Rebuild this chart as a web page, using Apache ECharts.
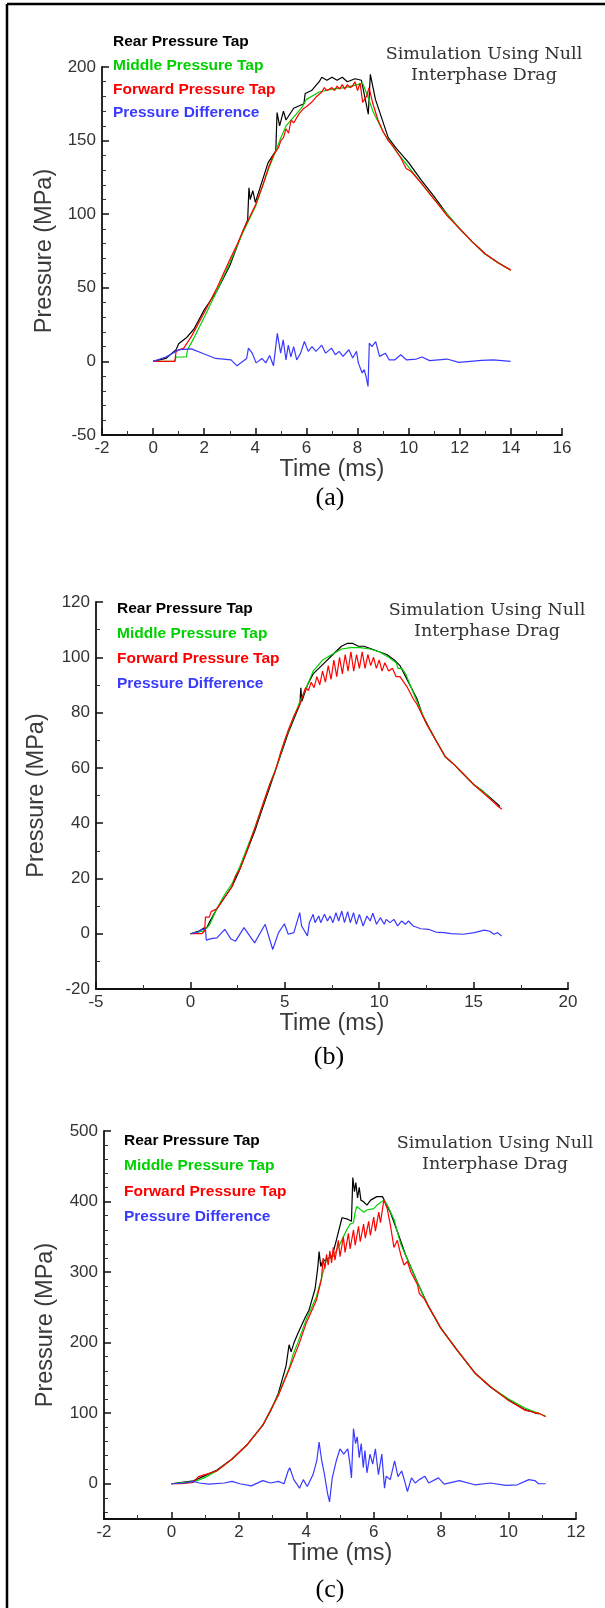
<!DOCTYPE html>
<html lang="en">
<head>
<meta charset="UTF-8">
<title>pressure taps</title>
<style>
  html, body { margin: 0; padding: 0; background: #fff; }
  #main { width: 605px; height: 1608px; }
</style>
</head>
<body>
<div id="main"></div>
<script src="https://cdn.jsdelivr.net/npm/echarts@6/dist/echarts.min.js"></script>
<script>
var seriesNames = ['Rear Pressure Tap', 'Middle Pressure Tap', 'Forward Pressure Tap', 'Pressure Difference'];
var seriesColors = ['#000000', '#00d000', '#ff0000', '#3a3aff'];
var captions = ['(a)', '(b)', '(c)'];
var note = 'Simulation Using Null\nInterphase Drag';

// panel (a)  [time ms, pressure MPa]
var rearA = [[0,0],[0.5,2],[0.9,8],[1.0,12],[1.3,16],[1.6,22],[2.0,35],[2.5,48],[3.0,65],[3.5,88],[3.7,96],[3.75,118],[3.8,110],[3.9,116],[4.0,108],[4.5,135],[4.8,143],[4.85,169],[4.95,160],[5.1,170],[5.2,164],[5.5,172],[5.9,175],[5.95,182],[6.2,184],[6.5,190],[6.6,193],[6.8,191],[7.0,193],[7.2,191],[7.4,193],[7.6,190],[7.9,192],[8.15,191],[8.42,168],[8.5,195],[8.7,178],[9.2,152],[9.5,145],[10,135],[10.5,123],[11,112],[11.5,100],[12,90],[12.5,81],[13,73],[13.5,67],[13.9,63]];
var middleA = [[0,0],[0.85,0],[0.9,3],[1.3,3],[1.35,8],[1.6,16],[2.0,30],[2.5,48],[3.0,67],[3.5,87],[4.0,105],[4.5,130],[4.8,143],[5.0,152],[5.2,160],[5.5,166],[5.8,172],[6.0,178],[6.5,183],[7.0,185],[7.5,186],[8.0,188],[8.2,189],[8.4,180],[8.6,170],[9.0,156],[9.5,143],[10.0,132],[10.5,121],[11.0,110],[11.5,100],[12.0,90],[12.5,81],[13.0,73],[13.5,67],[14.0,62]];
var forwardA = [[0,0],[0.85,0],[0.9,7],[1.2,9],[1.5,17],[2.0,33],[2.5,50],[3.0,69],[3.3,80],[3.5,88],[3.8,99],[4.0,106],[4.3,120],[4.5,131],[4.7,140],[4.9,145],[5.0,150],[5.1,152],[5.2,158],[5.3,155],[5.4,164],[5.5,162],[5.7,168],[5.9,172],[6.0,173],[6.2,176],[6.4,180],[6.6,183],[6.7,186],[6.8,184],[7.0,186],[7.1,184],[7.2,187],[7.3,185],[7.4,188],[7.5,185],[7.6,188],[7.7,186],[7.8,187],[7.9,190],[8.0,184],[8.1,189],[8.2,176],[8.35,180],[8.45,186],[8.6,175],[8.8,164],[9.0,156],[9.2,150],[9.4,146],[9.7,138],[9.9,131],[10.1,129],[10.5,121],[11.0,110],[11.5,99],[12.0,90],[12.5,81],[13.0,73],[13.5,67],[14.0,62]];
var diffA = [[0,0],[0.04,0],[0.5,3],[1.02,8],[1.5,8.5],[2.0,5],[2.45,2],[3.05,1],[3.28,-3],[3.66,2],[3.73,9],[3.88,5.6],[4.03,-1],[4.26,2],[4.41,-1],[4.56,4],[4.71,-3],[4.86,19],[4.99,5.6],[5.09,14.6],[5.2,1],[5.29,11],[5.39,3],[5.5,10],[5.62,1],[5.77,5.6],[5.92,13.5],[6.07,6.8],[6.22,10],[6.37,6.8],[6.6,11],[6.75,5.6],[6.98,9],[7.13,4.5],[7.28,6.8],[7.43,3.4],[7.66,7.9],[7.81,2.3],[7.96,6.8],[8.03,-1],[8.18,-7.9],[8.26,-5.6],[8.33,-10],[8.41,-17],[8.46,12.4],[8.56,10],[8.71,13.5],[8.86,3.4],[9.09,5.6],[9.24,1],[9.45,1],[9.69,4.5],[9.92,1],[10.3,1.6],[10.52,3],[10.82,0.5],[11.5,1.6],[11.96,-0.7],[12.86,0.7],[13.31,1.1],[13.99,0]];

// panel (b)
var rearB = [[0,0],[0.5,1],[0.7,2],[0.85,2],[1.0,4],[1.4,9],[1.8,13],[2.2,17],[2.6,23],[3.0,30],[3.4,37],[3.8,45],[4.2,53],[4.5,59],[4.8,65],[5.2,73],[5.5,78],[5.8,83],[5.85,89],[5.9,84],[6.2,90],[6.5,94],[6.8,96],[7.1,98],[7.4,100],[7.7,102],[8.0,104],[8.3,105],[8.6,105],[8.9,104],[9.2,104],[9.6,103],[10.0,102],[10.4,101],[10.8,99],[11.1,97],[11.4,93],[11.7,89],[12.0,85],[12.3,79],[12.6,75],[13.0,70],[13.5,64],[14.0,61],[14.5,57.5],[15.0,54],[15.5,51.5],[16.0,48.5],[16.4,46]];
var middleB = [[0,0],[0.7,1],[0.85,2],[1.0,3],[1.4,9],[1.8,14],[2.2,18],[2.6,24],[3.0,31],[3.4,38],[3.8,46],[4.2,54],[4.6,61],[5.0,70],[5.4,77],[5.8,84],[6.2,90],[6.5,95],[7.0,99],[7.5,101],[8.0,103],[8.5,103.5],[9.0,103.5],[9.5,103],[10.0,102],[10.5,100],[10.9,98],[11.0,96],[11.2,96],[11.4,94],[11.7,89],[12.0,84],[12.5,76],[13.0,70],[13.5,64],[14.0,61],[14.5,57.5],[15.0,54],[15.5,51.5],[16.0,48]];
var forwardB = [[0,0],[0.6,0],[0.75,1],[0.8,6],[1.0,6],[1.1,8],[1.4,9],[1.8,13],[2.2,17],[2.4,21],[2.6,23],[3.0,30],[3.4,38],[3.5,40],[3.8,46],[4.2,54],[4.5,59],[4.8,66],[5.2,74],[5.5,79],[5.8,83],[6.0,87],[6.1,89],[6.25,88],[6.4,91],[6.55,89],[6.7,93],[6.85,90],[7.0,95],[7.15,91],[7.3,97],[7.45,92],[7.6,99],[7.75,93],[7.9,100],[8.05,94],[8.2,101],[8.35,95],[8.5,102],[8.65,95],[8.8,101],[8.95,96],[9.1,102],[9.25,96],[9.4,101],[9.55,97],[9.7,100],[9.85,96],[10.0,99],[10.15,95],[10.3,98],[10.5,95],[10.7,96],[10.9,93],[11.1,93],[11.3,91],[11.5,89],[11.8,85],[12.0,83],[12.5,76],[13.0,70],[13.5,64],[14.0,61],[14.5,57.5],[15.0,54],[15.5,51],[16.0,48],[16.3,46],[16.5,45]];
var diffB = [[0,0],[0.4,0.6],[0.6,1.6],[0.8,1.6],[0.84,-2.3],[1.1,-1.8],[1.41,-1.5],[1.82,1.6],[2.13,-1.8],[2.39,-2.7],[2.84,2.2],[3.4,-3.3],[3.96,3.4],[4.36,-5.7],[4.67,0.4],[4.98,3.6],[5.18,-0.2],[5.48,0.4],[5.79,7.6],[5.89,2.8],[6.2,-0.8],[6.3,4],[6.5,7],[6.6,4],[6.8,6.4],[6.9,4],[7.1,7],[7.26,4.6],[7.4,6.4],[7.55,4],[7.71,7.6],[7.85,4.6],[8.02,8.2],[8.16,4],[8.33,8],[8.47,4],[8.64,7.6],[8.79,3.4],[8.95,7],[9.15,2.8],[9.35,6.4],[9.52,4.6],[9.66,7.4],[9.86,3.4],[10.06,5.8],[10.27,3.4],[10.37,5.2],[10.57,4],[10.78,5.2],[10.98,2.8],[11.19,4.6],[11.39,3.4],[11.55,4.6],[11.8,2.8],[12.2,1.8],[12.61,1.6],[13.0,0.6],[13.43,0.4],[13.8,0],[14.44,-0.2],[15.05,0.4],[15.56,1.3],[15.87,0.9],[16.07,-0.2],[16.27,0.4],[16.48,-0.8]];

// panel (c)
var rearC = [[0,0],[0.65,4],[0.88,9],[1.34,19],[1.8,35],[2.26,56],[2.71,83],[2.94,103],[3.17,128],[3.4,167],[3.49,197],[3.55,187],[3.63,199],[3.74,212],[3.97,236],[4.08,246],[4.26,276],[4.34,306],[4.38,329],[4.43,308],[4.48,315],[4.6,318],[4.77,323],[4.89,345],[5.06,377],[5.23,375],[5.34,372],[5.38,434],[5.43,414],[5.47,427],[5.52,405],[5.57,420],[5.62,402],[5.69,400],[5.8,395],[5.91,402],[6.09,407],[6.26,407],[6.49,385],[6.72,355],[6.94,325],[7.29,286],[7.63,251],[7.97,222],[8.43,192],[9.0,157],[9.46,137],[10.03,118],[10.49,105],[10.9,99]];
var middleC = [[0,0],[0.65,3],[0.8,5],[1.0,9],[1.34,18],[1.8,35],[2.26,56],[2.71,83],[3.17,126],[3.5,165],[3.6,182],[3.75,200],[4.0,233],[4.3,265],[4.5,300],[4.6,318],[4.8,322],[5.0,340],[5.2,360],[5.3,368],[5.4,370],[5.45,385],[5.5,393],[5.7,385],[5.8,388],[6.0,390],[6.1,395],[6.3,402],[6.4,395],[6.6,375],[6.8,340],[7.0,318],[7.3,285],[7.6,253],[8.0,220],[8.5,188],[9.0,157],[9.5,136],[10.0,120],[10.5,107],[11.1,96]];
var forwardC = [[0,0],[0.3,0],[0.65,2],[0.8,10],[1.0,13],[1.34,18],[1.8,35],[2.26,56],[2.71,83],[3.17,125],[3.5,163],[3.8,200],[4.0,228],[4.3,260],[4.45,290],[4.5,320],[4.55,305],[4.6,325],[4.65,310],[4.7,330],[4.75,313],[4.8,335],[4.85,317],[4.95,345],[5.0,322],[5.1,350],[5.15,328],[5.25,355],[5.3,333],[5.4,360],[5.45,338],[5.55,365],[5.6,343],[5.7,368],[5.75,348],[5.85,372],[5.9,352],[6.0,378],[6.05,358],[6.15,385],[6.2,370],[6.3,402],[6.4,390],[6.5,365],[6.6,335],[6.7,345],[6.8,325],[6.9,310],[7.0,315],[7.1,300],[7.3,282],[7.35,270],[7.5,262],[7.7,245],[8.0,220],[8.5,188],[9.0,157],[9.5,136],[10.0,118],[10.5,104],[10.7,102],[10.8,100],[10.9,100],[11.1,95]];
var diffC = [[0,0],[0.42,1],[0.65,3.4],[0.83,1],[1.11,-0.5],[1.57,1],[1.8,3.4],[2.03,0],[2.37,-3],[2.71,4.4],[2.94,1],[3.17,3.4],[3.34,0],[3.46,18],[3.51,22.8],[3.63,5.8],[3.8,-6.3],[3.91,5.8],[4.03,-3.9],[4.2,13],[4.31,32.5],[4.38,59],[4.45,35],[4.54,13],[4.63,-13.6],[4.69,-25.7],[4.77,8.3],[4.89,32.5],[5.0,49.5],[5.11,42],[5.23,49.5],[5.29,30],[5.34,8.3],[5.4,78],[5.46,57],[5.51,66.5],[5.57,37],[5.63,57],[5.69,23],[5.74,47],[5.8,15.5],[5.89,42],[5.97,27.7],[6.05,49.5],[6.14,13],[6.24,42],[6.32,-6.3],[6.37,10.7],[6.49,5.8],[6.62,32.5],[6.72,10],[6.83,18],[6.92,3.4],[7.0,-11],[7.12,8.3],[7.23,1],[7.35,5.8],[7.52,10.7],[7.63,1],[7.92,8.3],[8.09,-0.5],[8.54,4.4],[9.0,-1.5],[9.46,1],[9.92,-2.4],[10.26,-1.5],[10.6,5.8],[10.78,4.5],[10.89,0],[11.1,0]];

var panelData = [
  [rearA, middleA, forwardA, diffA],
  [rearB, middleB, forwardB, diffB],
  [rearC, middleC, forwardC, diffC]
];

// layout of the three plots (px)
var panels = [
  { grid: {left: 102, top: 67, width: 460, height: 368},
    x: {min: -2, max: 16, interval: 2}, y: {min: -50, max: 200, interval: 50, minor: 5},
    legend: {left: 108, top: 34, gap: 7.7}, note: [484, 65], cap: [330, 498], nameGap: 45 },
  { grid: {left: 96, top: 602, width: 472, height: 387},
    x: {min: -5, max: 20, interval: 5}, y: {min: -20, max: 120, interval: 20, minor: 2},
    legend: {left: 112, top: 601, gap: 9}, note: [487, 621], cap: [329, 1057], nameGap: 47 },
  { grid: {left: 104, top: 1131, width: 472, height: 388},
    x: {min: -2, max: 12, interval: 2}, y: {min: -50, max: 500, minor: 5},
    legend: {left: 119, top: 1133, gap: 9.2}, note: [495, 1154], cap: [330, 1590], nameGap: 46 }
];

var labelFont = { color: '#333', fontSize: 17, fontFamily: 'Liberation Sans, Arial, sans-serif' };
var nameFont = { color: '#3a3a3a', fontSize: 23.5, fontFamily: 'Liberation Sans, Arial, sans-serif' };

var grids = [], xAxes = [], yAxes = [], legends = [], series = [], graphics = [];

panels.forEach(function (p, i) {
  grids.push(p.grid);
  xAxes.push({
    type: 'value', gridIndex: i, min: p.x.min, max: p.x.max, interval: p.x.interval,
    name: 'Time (ms)', nameLocation: 'middle', nameGap: 19, nameTextStyle: nameFont,
    axisLine: { onZero: false, lineStyle: { color: '#111', width: 1.8 } },
    axisTick: { inside: true, length: 7, lineStyle: { color: '#111', width: 1.5 } },
    minorTick: { show: true, splitNumber: 2, length: 4, lineStyle: { color: '#333', width: 1 } },
    splitLine: { show: false },
    axisLabel: Object.assign({ margin: 5, showMinLabel: true, showMaxLabel: true }, labelFont)
  });
  var y = {
    type: 'value', gridIndex: i, min: p.y.min, max: p.y.max,
    name: 'Pressure (MPa)', nameLocation: 'middle', nameRotate: 90, nameGap: p.nameGap, nameTextStyle: nameFont,
    axisLine: { onZero: false, lineStyle: { color: '#111', width: 1.8 } },
    axisTick: { inside: true, length: 7, lineStyle: { color: '#111', width: 1.5 } },
    minorTick: { show: true, splitNumber: p.y.minor, length: 4, lineStyle: { color: '#333', width: 1 } },
    splitLine: { show: false },
    axisLabel: Object.assign({ margin: 6 }, labelFont)
  };
  if (p.y.interval) {
    y.interval = p.y.interval;
  } else {
    y.splitNumber = 5;
    y.axisLabel.showMinLabel = false;
  }
  yAxes.push(y);

  legends.push({
    orient: 'vertical', left: p.legend.left, top: p.legend.top, padding: 0,
    itemGap: p.legend.gap, itemWidth: 0, itemHeight: 0, icon: 'rect', selectedMode: false,
    textStyle: { fontSize: 15.5, fontWeight: 'bold', lineHeight: 16, fontFamily: 'Liberation Sans, Arial, sans-serif' },
    data: seriesNames.map(function (n, k) {
      return { name: n, textStyle: { color: seriesColors[k] } };
    })
  });

  panelData[i].forEach(function (d, k) {
    series.push({
      name: seriesNames[k], type: 'line', xAxisIndex: i, yAxisIndex: i,
      data: d, showSymbol: false, symbol: 'none', silent: true,
      lineStyle: { color: seriesColors[k], width: 1.2 },
      itemStyle: { color: seriesColors[k] }
    });
  });

  graphics.push({
    type: 'text', x: p.note[0], y: p.note[1],
    style: { text: note, fill: '#333', font: '17.5px "DejaVu Serif", serif', lineHeight: 21, align: 'center', verticalAlign: 'middle' }
  });
  graphics.push({
    type: 'text', x: p.cap[0], y: p.cap[1],
    style: { text: captions[i], fill: '#000', font: '26px "Liberation Serif", "Times New Roman", serif', align: 'center', verticalAlign: 'middle' }
  });
});

// page frame (top and left rules)
graphics.push({ type: 'line', shape: { x1: 7, y1: 4, x2: 605, y2: 4 }, style: { stroke: '#000', lineWidth: 2.5 } });
graphics.push({ type: 'line', shape: { x1: 7, y1: 4, x2: 7, y2: 1608 }, style: { stroke: '#000', lineWidth: 2.5 } });

var myChart = echarts.init(document.getElementById('main'));
myChart.setOption({
  animation: false,
  backgroundColor: '#fff',
  grid: grids,
  xAxis: xAxes,
  yAxis: yAxes,
  legend: legends,
  series: series,
  graphic: graphics
});
</script>
</body>
</html>
